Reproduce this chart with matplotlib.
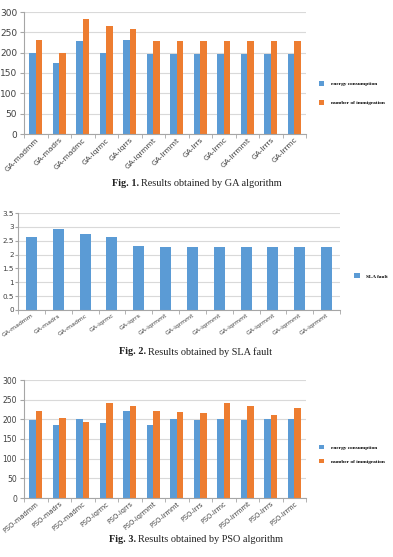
import numpy as np
import matplotlib.pyplot as plt

BLUE = '#5B9BD5'
ORANGE = '#ED7D31'
GRID = '#D9D9D9'

# Fig. 1 data (GA algorithm)
ga_labels = ['GA-madmm', 'GA-madrs', 'GA-madmc', 'GA-iqrmc', 'GA-iqrrs', 'GA-iqrmmt',
             'GA-lrmmt', 'GA-lrrs', 'GA-lrmc', 'GA-lrrmmt', 'GA-lrrrs', 'GA-lrrmc']
ga_energy = [199, 175, 229, 200, 232, 197, 197, 197, 197, 197, 197, 197]
ga_migration = [231, 200, 283, 265, 257, 228, 228, 228, 228, 228, 228, 228]

# Fig. 2 data (SLA fault)
sla_labels = ['GA-madmm', 'GA-madrs', 'GA-madmc', 'GA-iqrmc', 'GA-iqrrs', 'GA-iqrmmt',
              'GA-iqrmmt', 'GA-iqrmmt', 'GA-iqrmmt', 'GA-iqrmmt', 'GA-iqrmmt', 'GA-iqrmmt']
sla_fault = [2.62, 2.92, 2.76, 2.62, 2.31, 2.27, 2.27, 2.27, 2.27, 2.27, 2.27, 2.27]

# Fig. 3 data (PSO algorithm)
pso_labels = ['PSO-madmm', 'PSO-madrs', 'PSO-madmc', 'PSO-iqrmc', 'PSO-iqrrs', 'PSO-iqrmmt',
              'PSO-lrmmt', 'PSO-lrrs', 'PSO-lrmc', 'PSO-lrrmmt', 'PSO-lrrrs', 'PSO-lrrmc']
pso_energy = [199, 185, 200, 190, 220, 186, 200, 199, 200, 199, 200, 202]
pso_migration = [221, 203, 193, 242, 235, 221, 218, 217, 241, 233, 211, 229]

W, H = 393, 557
fig = plt.figure(figsize=(W / 100, H / 100), dpi=100)
fig.patch.set_facecolor('white')


def px_axes(left, right, top, bottom):
    return fig.add_axes([left / W, 1 - bottom / H, (right - left) / W, (bottom - top) / H])


def style_axes(ax, n, ymax, ystep, yfmt, fs):
    ax.set_xlim(0, n)
    ax.set_ylim(0, ymax)
    yt = np.arange(0, ymax + ystep / 2, ystep)
    ax.set_yticks(yt)
    ax.set_yticklabels([yfmt(v) for v in yt], fontsize=fs, color='#404040')
    ax.set_xticks(np.arange(n) + 0.5)
    ax.set_xticks(np.arange(n + 1), minor=True)
    ax.tick_params(axis='x', which='major', length=0, pad=2)
    ax.tick_params(axis='x', which='minor', length=3, color='#A6A6A6')
    ax.tick_params(axis='y', length=3, color='#A6A6A6', pad=2)
    ax.grid(axis='y', color=GRID, linewidth=0.8)
    ax.set_axisbelow(True)
    for s in ['top', 'right']:
        ax.spines[s].set_visible(False)
    for s in ['left', 'bottom']:
        ax.spines[s].set_color('#A6A6A6')
        ax.spines[s].set_linewidth(0.8)


def caption(num, text, xend_bold, y):
    fig.text(xend_bold / W, 1 - y / H, 'Fig. %d.' % num, ha='right', va='center',
             family='Liberation Serif', weight='bold', fontsize=7.4, color='#222222')
    fig.text((xend_bold + 2) / W, 1 - y / H, text, ha='left', va='center',
             family='Liberation Serif', fontsize=7.4, color='#222222')


def int_fmt(v):
    return '%d' % v


def half_fmt(v):
    return ('%g' % v)


legend_font = {'family': 'Liberation Serif', 'weight': 'bold', 'size': 3.8}

# ---- Fig. 1 ----
ax1 = px_axes(24, 306, 12, 134)
x = np.arange(len(ga_labels)) + 0.5
bw = 0.27
ax1.bar(x - bw / 2, ga_energy, bw, color=BLUE, label='energy consumption')
ax1.bar(x + bw / 2, ga_migration, bw, color=ORANGE, label='number of immigration')
style_axes(ax1, len(ga_labels), 300, 50, int_fmt, 6.5)
ax1.set_xticklabels(ga_labels, rotation=45, ha='right', rotation_mode='anchor',
                    fontsize=5.4, color='#404040')
ax1.legend(loc='center left', bbox_to_anchor=(1.03, 0.336), frameon=False,
           prop=legend_font, handlelength=1.0, handleheight=1.0,
           labelspacing=2.6, handletextpad=1.2)
caption(1, 'Results obtained by GA algorithm', 139, 184)

# ---- Fig. 2 ----
ax2 = px_axes(18, 340, 213, 310)
x = np.arange(len(sla_labels)) + 0.5
ax2.bar(x, sla_fault, 0.41, color=BLUE, label='SLA fault')
style_axes(ax2, len(sla_labels), 3.5, 0.5, half_fmt, 5.2)
ax2.tick_params(axis='y', pad=1, length=2)
ax2.set_xticklabels(sla_labels, rotation=35, ha='right', rotation_mode='anchor',
                    fontsize=4.4, color='#404040')
ax2.legend(loc='center left', bbox_to_anchor=(1.03, 0.35), frameon=False,
           prop=legend_font, handlelength=1.0, handleheight=1.0, handletextpad=1.2)
caption(2, 'Results obtained by SLA fault', 146, 352)

# ---- Fig. 3 ----
ax3 = px_axes(24, 306, 380, 498)
x = np.arange(len(pso_labels)) + 0.5
ax3.bar(x - bw / 2, pso_energy, bw, color=BLUE, label='energy consumption')
ax3.bar(x + bw / 2, pso_migration, bw, color=ORANGE, label='number of immigration')
style_axes(ax3, len(pso_labels), 300, 50, int_fmt, 5.5)
ax3.set_xticklabels(pso_labels, rotation=40, ha='right', rotation_mode='anchor',
                    fontsize=4.8, color='#404040')
ax3.legend(loc='center left', bbox_to_anchor=(1.03, 0.369), frameon=False,
           prop=legend_font, handlelength=1.0, handleheight=0.8,
           labelspacing=1.8, handletextpad=1.2)
caption(3, 'Results obtained by PSO algorithm', 136, 539)

fig.savefig('out.png', dpi=100)
